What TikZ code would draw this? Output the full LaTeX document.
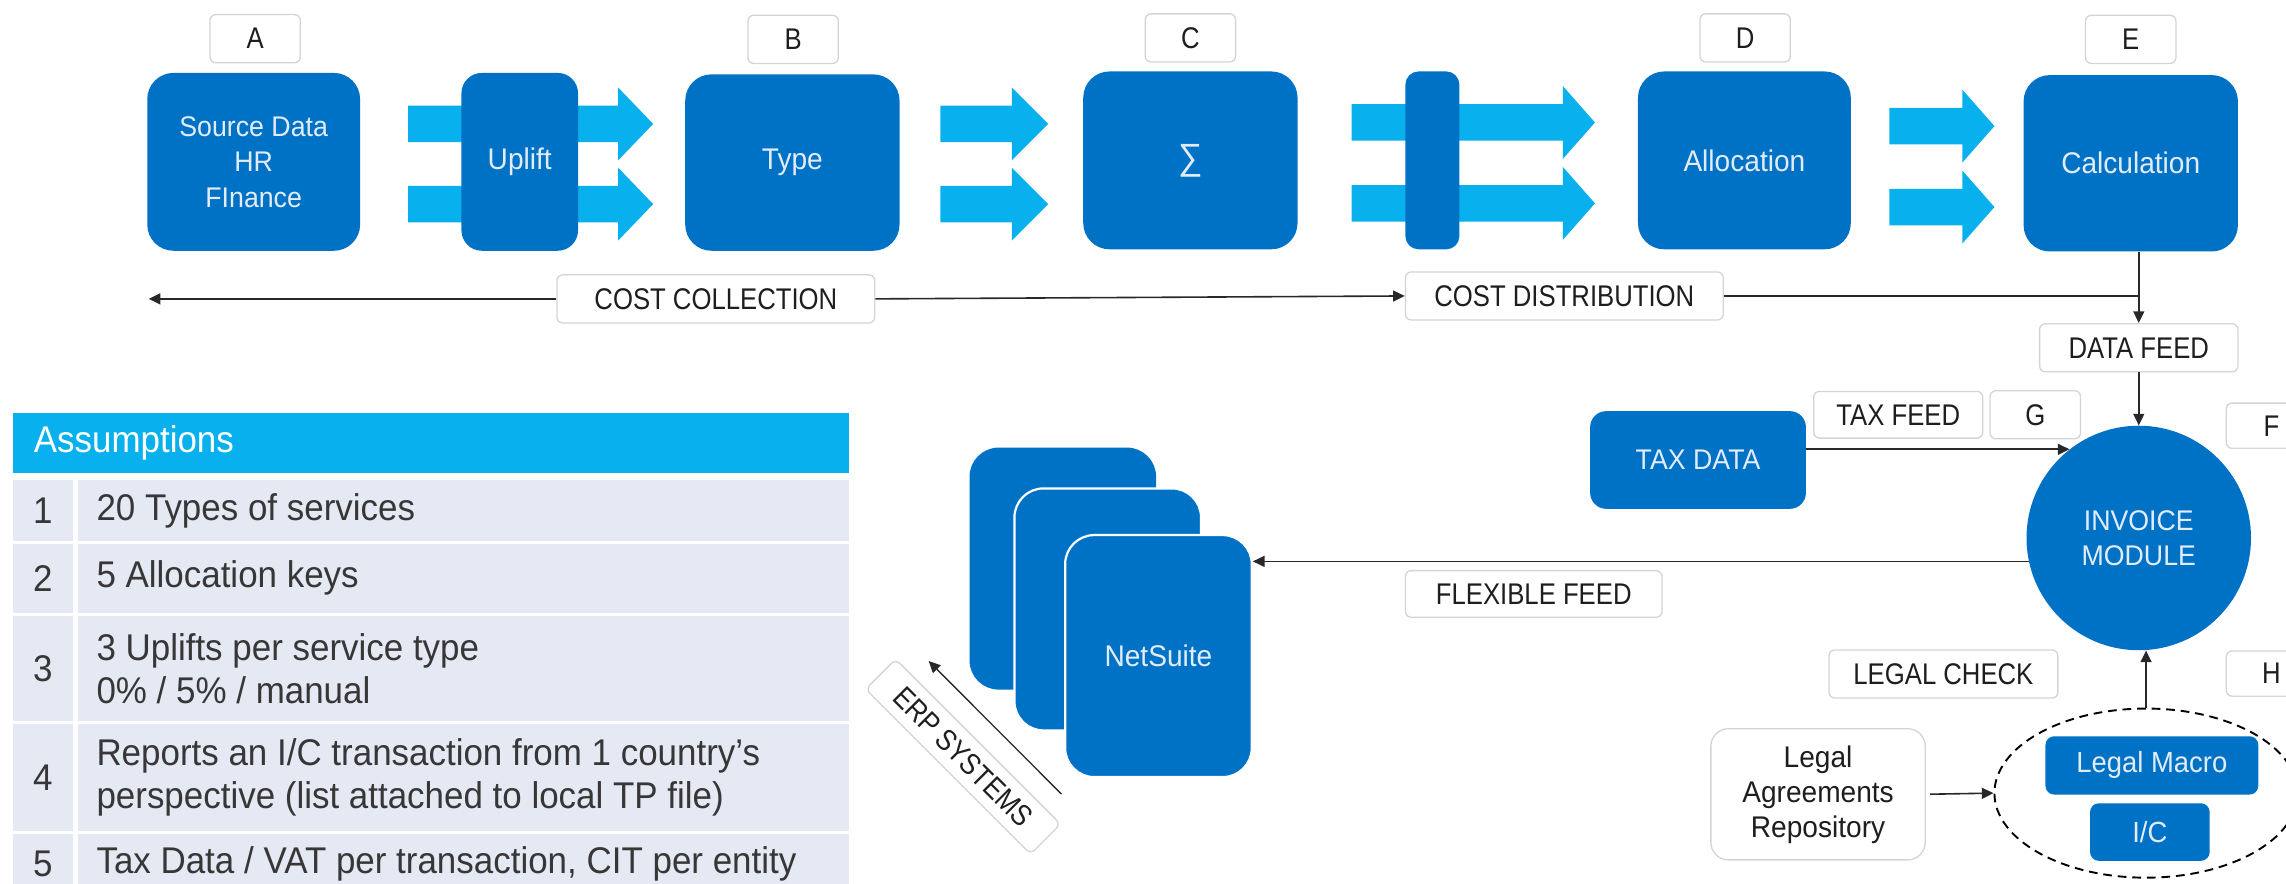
\documentclass[tikz,border=0pt]{standalone}
\usepackage{fontspec}
\setmainfont[FakeStretch=0.94]{Liberation Sans}
\newfontfamily\condfont[FakeStretch=0.86]{Liberation Sans}
\usetikzlibrary{arrows.meta,shapes.geometric}

\definecolor{procblue}{RGB}{0,114,198}
\definecolor{flowcyan}{RGB}{8,176,238}
\definecolor{rowfill}{RGB}{229,233,244}
\definecolor{boxtext}{RGB}{226,236,249}
\definecolor{tagtext}{RGB}{30,30,30}
\definecolor{tagframe}{RGB}{212,212,212}
\definecolor{rowtext}{RGB}{55,55,55}
\definecolor{wire}{RGB}{40,40,40}

\tikzset{
  proc/.style={rectangle, fill=procblue, draw=none, rounded corners=18pt,
    text=boxtext, font=\fontsize{20.5}{24.5}\selectfont, align=center, inner sep=0pt},
  tag/.style={rectangle, fill=white, draw=tagframe, line width=0.9pt, rounded corners=4pt,
    text=tagtext, font=\condfont\fontsize{20.5}{24}\selectfont, inner sep=0pt,
    minimum height=33pt},
  letter/.style={tag, minimum width=62pt},
  conn/.style={draw=wire, line width=1.1pt, -{Triangle[length=8pt,width=7.5pt]}},
  plainwire/.style={draw=wire, line width=1.1pt},
  numcell/.style={rectangle, fill=rowfill, inner sep=0pt, anchor=north west,
    minimum width=41.5pt, text=rowtext, font=\fontsize{25.5}{29.5}\selectfont},
  txtcell/.style={rectangle, fill=rowfill, inner sep=0pt, anchor=north west,
    minimum width=529pt},
  rowline/.style={anchor=west, inner sep=0pt, align=left, text=rowtext,
    font=\fontsize{25.5}{29.5}\selectfont},
  erpcard/.style={rectangle, fill=procblue, rounded corners=20pt, minimum width=128pt,
    minimum height=166pt, inner sep=0pt, text=boxtext, font=\fontsize{20.5}{24}\selectfont},
}

% wide cyan flow arrow: start x, head base x, tip x, centre y
\newcommand\flowarrow[4]{%
  \fill[flowcyan] (#1,{#4-12.5}) -- (#2,{#4-12.5}) -- (#2,{#4-25}) -- (#3,#4)
    -- (#2,{#4+25}) -- (#2,{#4+12.5}) -- (#1,{#4+12.5}) -- cycle;}

\begin{document}
\begin{tikzpicture}[x=1pt,y=-1pt]
\useasboundingbox (0,0) rectangle (1568,606);
\clip (0,0) rectangle (1568,606);

% ---- flow arrows (behind the process boxes)
\flowarrow{280}{424}{448}{85}
\flowarrow{280}{424}{448}{140}
\flowarrow{645}{694}{719}{85}
\flowarrow{645}{694}{719}{140}
\flowarrow{927}{1072}{1094}{84}
\flowarrow{927}{1072}{1094}{139.5}
\flowarrow{1296}{1346}{1368}{86.5}
\flowarrow{1296}{1346}{1368}{142}

% ---- process row
\node[proc, minimum width=146pt, minimum height=122pt, font=\fontsize{19.5}{24.3}\selectfont]
  (src) at (174,111) {Source Data\\HR\\FInance};
\node[proc, minimum width=80pt, minimum height=122pt, rounded corners=14pt] (uplift) at (356.5,111) {Uplift};
\node[proc, minimum width=147pt, minimum height=121pt] (type) at (543.5,111.5) {Type};
\node[proc, minimum width=147pt, minimum height=122pt, font=\fontsize{25}{28}\selectfont] (sum) at (816.5,110) {∑};
\node[proc, minimum width=37pt, minimum height=122pt, rounded corners=9pt] (gate) at (982.5,110) {};
\node[proc, minimum width=146pt, minimum height=122pt] (alloc) at (1196.5,110) {Allocation};
\node[proc, minimum width=147pt, minimum height=121pt] (calc) at (1461.5,112) {Calculation};

% ---- step letters
\node[letter] (la) at (175,26.5) {A};
\node[letter] (lb) at (544,27) {B};
\node[letter] (lc) at (816.5,26) {C};
\node[letter] (ld) at (1197,26) {D};
\node[letter] (le) at (1461.5,27) {E};
\node[letter, minimum height=31pt] (lf) at (1558,292) {F};
\node[letter] (lg) at (1396,284.5) {G};
\node[letter, minimum height=31pt] (lh) at (1558,462) {H};

% ---- cost collection / distribution bar
\node[tag, minimum width=218pt] (ccol) at (491,205) {COST COLLECTION};
\node[tag, minimum width=218pt] (cdist) at (1073,203) {COST DISTRIBUTION};
\coordinate (collend) at (102,205);
\draw[conn] (ccol.west) -- (collend);
\draw[conn] (ccol.east) -- (cdist.west);

\node[tag, minimum width=136pt] (dfeed) at (1467,238.5) {DATA FEED};
\draw[plainwire] (cdist.east) -- (cdist.east -| dfeed.north);
\draw[conn] (calc.south -| dfeed.north) -- (dfeed.north);

% ---- invoice module
\node[circle, fill=procblue, minimum size=154pt, inner sep=0pt, text=boxtext,
  font=\fontsize{19.5}{24}\selectfont, align=center] (inv) at (1467,369) {INVOICE\\MODULE};
\draw[conn] (dfeed.south) -- (inv.north);

\node[proc, minimum width=148pt, minimum height=67pt, rounded corners=11pt,
  font=\fontsize{19.5}{24}\selectfont] (taxd) at (1164.7,315.5) {TAX DATA};
\node[tag, minimum width=116pt, minimum height=32pt] (tfeed) at (1302,284.5) {TAX FEED};
\draw[conn] (taxd.east |- inv.128) -- (inv.128);

% ---- ERP systems stack
\node[erpcard] (ns1) at (729,390) {};
\node[erpcard, draw=white, line width=1.5pt] (ns2) at (759.8,418) {};
\node[erpcard, draw=white, line width=1.5pt] (ns3) at (794.6,450) {NetSuite};
\node[tag, minimum width=176pt, minimum height=32pt] (flex) at (1052,407.4) {FLEXIBLE FEED};
\draw[conn] (inv.192.5) -- (ns3.east |- inv.192.5);

\node[tag, rotate=-45, minimum width=160pt, minimum height=29pt] (erp) at (660.6,519) {ERP SYSTEMS};
\coordinate (erpfoot) at (728,544.6);
\coordinate (erphead) at (637,453.4);
\draw[conn, line width=0.9pt] (erpfoot) -- (erphead);

% ---- legal check
\node[tag, minimum width=157pt] (lcheck) at (1333,462.3) {LEGAL CHECK};
\node[ellipse, draw=black, dashed, dash pattern=on 6pt off 4pt, line width=1.3pt,
  minimum width=208pt, minimum height=116pt, inner sep=0pt] (legalgrp) at (1472,544) {};
\node[proc, minimum width=146pt, minimum height=40pt, rounded corners=6pt,
  font=\fontsize{20}{24}\selectfont] (macro) at (1476,525) {Legal Macro};
\node[proc, minimum width=82pt, minimum height=39.5pt, rounded corners=6pt,
  font=\fontsize{20}{24}\selectfont] (ic) at (1474.6,570.7) {I/C};
\node[tag, minimum width=147pt, minimum height=90pt, rounded corners=12pt, align=center,
  font=\fontsize{20.5}{24}\selectfont] (repo) at (1247,544.8) {Legal\\Agreements\\Repository};
\draw[conn] (legalgrp.north) -- (legalgrp.north |- inv.south);
\draw[conn, shorten <=3pt] (repo.east) -- (legalgrp.west);

% ---- assumptions table
\node[rectangle, fill=flowcyan, anchor=north west, minimum width=573.5pt, minimum height=41pt,
  inner sep=0pt] (hdr) at (8.5,283) {};
\node[anchor=west, inner sep=0pt, text=white, font=\fontsize{25.5}{29.5}\selectfont]
  (hdrtext) at ([xshift=14.5pt]hdr.west) {Assumptions};

\node[numcell, minimum height=42pt] (n1) at (8.5,329) {1};
\node[txtcell, minimum height=42pt] (c1) at (53,329) {};
\node[rowline] (t1) at ([xshift=13pt]c1.west) {20 Types of services};

\node[numcell, minimum height=47pt] (n2) at (8.5,373) {2};
\node[txtcell, minimum height=47pt] (c2) at (53,373) {};
\node[rowline] (t2) at ([xshift=13pt]c2.west) {5 Allocation keys};

\node[numcell, minimum height=72.5pt] (n3) at (8.5,422) {3};
\node[txtcell, minimum height=72.5pt] (c3) at (53,422) {};
\node[rowline] (t3) at ([xshift=13pt]c3.west) {3 Uplifts per service type\\0\% / 5\% / manual};

\node[numcell, minimum height=73.5pt] (n4) at (8.5,496.5) {4};
\node[txtcell, minimum height=73.5pt] (c4) at (53,496.5) {};
\node[rowline] (t4) at ([xshift=13pt]c4.west) {Reports an I/C transaction from 1 country’s\\perspective (list attached to local TP file)};

\node[numcell, minimum height=42pt] (n5) at (8.5,571.5) {5};
\node[txtcell, minimum height=42pt] (c5) at (53,571.5) {};
\node[rowline] (t5) at ([xshift=13pt]c5.west) {Tax Data / VAT per transaction, CIT per entity};
\end{tikzpicture}
\end{document}
